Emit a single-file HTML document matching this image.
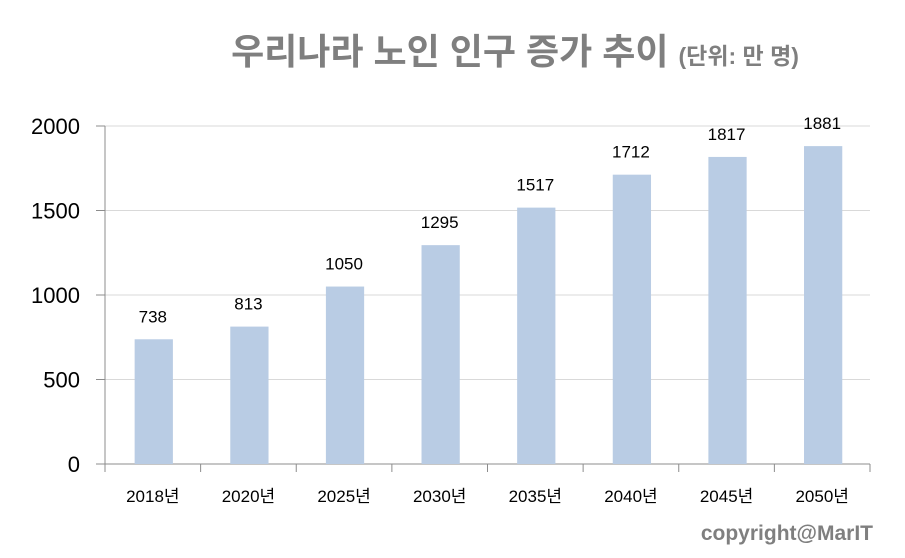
<!DOCTYPE html>
<html><head><meta charset="utf-8"><style>
body{margin:0;background:#fff;width:905px;height:553px;overflow:hidden;font-family:"Liberation Sans","Noto Sans CJK KR",sans-serif}
</style></head><body>
<svg id="c" width="905" height="553" xmlns="http://www.w3.org/2000/svg" font-family="Liberation Sans, Noto Sans CJK KR, sans-serif">
<text x="515" y="64" text-anchor="middle" fill="#7f7f7f" font-weight="bold" font-size="36">우리나라 노인 인구 증가 추이 <tspan font-size="23">(단위: 만 명)</tspan></text>
<text x="873" y="540" text-anchor="end" fill="#7f7f7f" font-weight="bold" font-size="21">copyright@MarIT</text>
</svg>
<script>
const categories=["2018년","2020년","2025년","2030년","2035년","2040년","2045년","2050년"];
const values=[738,813,1050,1295,1517,1712,1817,1881];
const yTicks=[0,500,1000,1500,2000];
const svg=document.getElementById('c');
const NS='http://www.w3.org/2000/svg';
const L=105,R=870,T=126,B=464,maxV=2000;
const bw=(R-L)/categories.length;
const y=v=>B-(v/maxV)*(B-T);
const x=i=>L+bw*i;
function mk(t,a){const e=document.createElementNS(NS,t);for(const k in a)e.setAttribute(k,a[k]);svg.appendChild(e);return e;}
yTicks.forEach(v=>{
 if(v>0){const g=mk('line',{x1:L,x2:R,y1:y(v),y2:y(v),stroke:'#d9d9d9','stroke-width':1});
 
 }
 const tk=mk('line',{x1:96,x2:L,y1:y(v),y2:y(v),stroke:'#8c8c8c'});
 
 
 const t=mk('text',{x:80,y:y(v)+8,'text-anchor':'end','font-size':22,fill:'#000'});t.textContent=v;
 
 
});
const ya=mk('line',{x1:L,x2:L,y1:T,y2:B,stroke:'#8c8c8c'});


const xa=mk('line',{x1:L,x2:R,y1:B,y2:B,stroke:'#8c8c8c'});


for(let i=0;i<=categories.length;i++){const tk=mk('line',{x1:x(i),x2:x(i),y1:B,y2:B+8,stroke:'#8c8c8c'});
 
 }
categories.forEach((c,i)=>{
 const v=values[i];
 const b=mk('rect',{x:x(i)+bw*0.31,y:y(v),width:bw*0.4,height:B-y(v),fill:'#b9cce4'});
 
 
 const lb=mk('text',{x:x(i)+bw/2,y:y(v)-17,'text-anchor':'middle','font-size':17,fill:'#000'});lb.textContent=v;
 
 
 const xl=mk('text',{x:x(i)+bw/2,y:502,'text-anchor':'middle','font-size':17,fill:'#000'});xl.textContent=c;
 
 
});
</script>
</body></html>
